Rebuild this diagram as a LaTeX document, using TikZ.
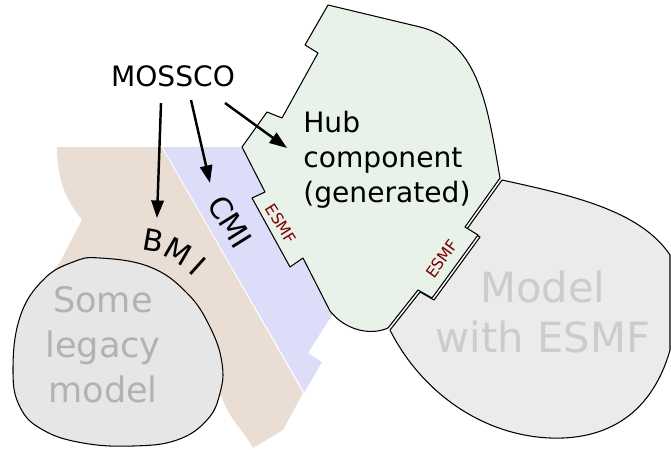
\documentclass[tikz,border=0pt]{standalone}
\usepackage{fontspec}
\setmainfont{DejaVu Sans}
\usetikzlibrary{arrows.meta}
\definecolor{bmibrown}{HTML}{E9DDD4}
\definecolor{cmiblue}{HTML}{DDDDFA}
\definecolor{hubgreen}{HTML}{E8F2E8}
\definecolor{modelgrey}{HTML}{EBEBEB}
\definecolor{legacygrey}{HTML}{E6E6E6}
\definecolor{esmfred}{HTML}{800000}
\begin{document}
\begin{tikzpicture}[x=0.02cm,y=-0.02cm,
  outline/.style={draw=black,line width=0.6pt,line join=round},
  arr/.style={line width=1.4pt,-{Triangle[length=10pt,width=7pt]}},
  esmf/.style={text=esmfred,font=\fontsize{9}{10}\selectfont,inner sep=0},
  bigfont/.style={font=\fontsize{17}{20}\selectfont,inner sep=0}]
\useasboundingbox (0,0) rectangle (671,449);
%brown band (BMI)
\fill[bmibrown] (57,147) -- (162,147) -- (303,393) -- (283,430) -- (253,448) .. controls (245,432) and (228,418) .. (222,397) -- (120,330) -- (48,278) -- (60,262) -- (82,220) .. controls (66,200) and (57,180) .. (57,147) -- cycle;
%blue band (CMI)
\fill[cmiblue] (162,147) -- (248,147) -- (334,312) -- (308,353) -- (322,362) -- (304,393) -- cycle;
\draw[white,line width=0.5pt] (162,147) -- (304,393);
%legacy model
\draw[outline,fill=legacygrey] plot[smooth cycle,tension=0.7] coordinates {(100,258) (150,267) (187,293) (210,327) (222,363) (220,393) (207,420) (177,440) (133,446) (83,443) (43,430) (20,407) (13,370) (20,317) (43,280) (73,262)};
%model with esmf
\draw[outline,fill=modelgrey] (502,180) .. controls (570,195) and (640,210) .. (670,255) -- (670,350) .. controls (650,420) and (600,440) .. (550,438) .. controls (480,435) and (420,390) .. (390,330) -- (420,292) -- (434,300) -- (480,237) -- (467,229) -- cycle;
%hub component
\draw[outline,fill=hubgreen] (328,5) -- (420,27) .. controls (480,42) and (488,110) .. (500,178) -- (465,227) -- (478,235) -- (432,298) -- (418,290) -- (388,328) .. controls (370,336) and (345,330) .. (330,311) -- (303,258) -- (290,267) -- (252,198) -- (265,192) -- (242,147) -- (267,112) -- (282,118) -- (318,53) -- (305,45) -- cycle;
%labels
\node[font=\fontsize{16}{20}\selectfont,inner sep=0,anchor=base] (mossco) at (173,87) {MOSSCO};
\node[font=\fontsize{16}{19.8}\selectfont,align=left,inner sep=0,anchor=north west] (hub) at (303,111) {Hub\\component\\(generated)};
\node[font=\fontsize{20}{25.5}\selectfont,align=center,inner sep=0,text=black!30] (legacy) at (103,345) {Some\\legacy\\model};
\node[font=\fontsize{23.7}{28.3}\selectfont,align=center,inner sep=0,text=black!20] (model) at (543,312) {Model\\with ESMF};
\node[bigfont,rotate=-58] (cmi) at (230,222) {CMI};
\node[bigfont,rotate=-10] (bmi-b) at (153,241) {B};
\node[bigfont,rotate=-30] (bmi-m) at (178,252) {M};
\node[bigfont,rotate=-42] (bmi-i) at (198,266) {I};
\node[esmf,rotate=-58] (esmf-l) at (281,224) {ESMF};
\node[esmf,rotate=54] (esmf-r) at (442,259) {ESMF};
%arrows
\draw[arr] ([shift={(-12,16)}]mossco.base) -- ([shift={(4,-23)}]bmi-b.center);
\draw[arr] ([shift={(18,13)}]mossco.base) -- ([shift={(-20,-39)}]cmi.center);
\draw[arr] ([shift={(52,16)}]mossco.base) -- ([shift={(-16,37)}]hub.north west);
\end{tikzpicture}
\end{document}
